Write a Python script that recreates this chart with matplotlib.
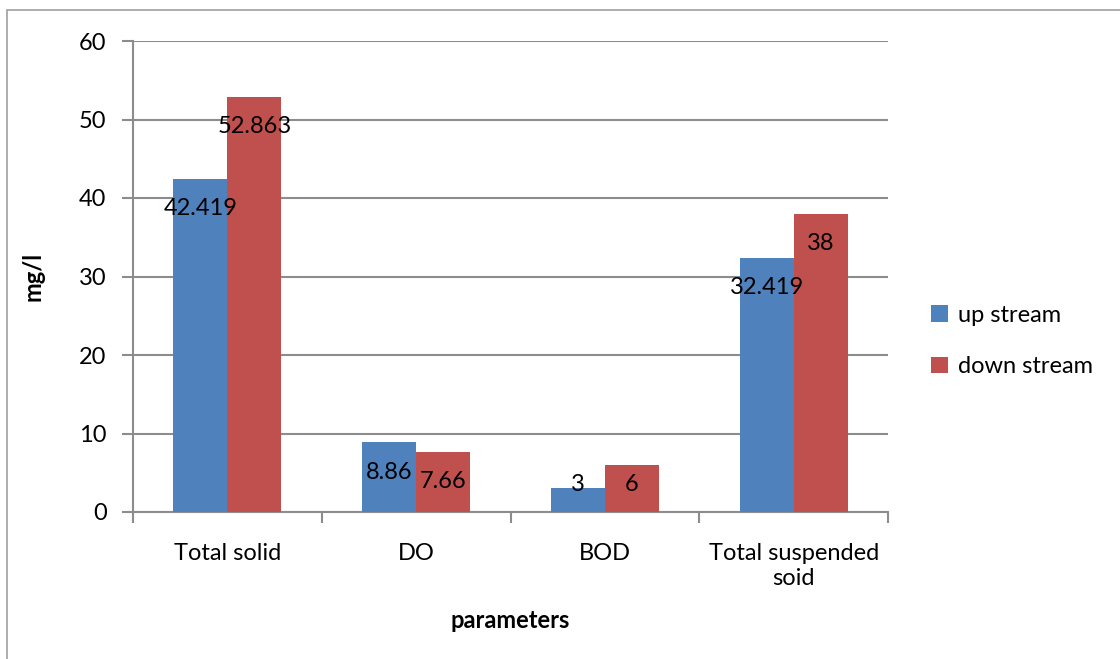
import numpy as np
import matplotlib
matplotlib.use("Agg")
import matplotlib.pyplot as plt
from matplotlib.patches import Rectangle

plt.rcParams['font.family'] = ['Lato', 'DejaVu Sans']

categories = ["Total solid", "DO", "BOD", "Total suspended\nsoid"]
up_stream = [42.419, 8.86, 3, 32.419]
down_stream = [52.863, 7.66, 6, 38]
series_names = ["up stream", "down stream"]

blue = "#4F81BD"
red = "#C0504D"
grid_grey = "#8C8C8C"
fs = 17

fig = plt.figure(figsize=(11.2, 6.59), dpi=100)
ax = fig.add_axes([133 / 1120, 1 - 512 / 659, 755 / 1120, 471 / 659])

# outer chart frame (only left/top edges fall inside the image)
fig.patches.append(Rectangle((7 / 1120, -0.1), 1.2, (1 - 10 / 659) + 0.1,
                             transform=fig.transFigure, fill=False,
                             edgecolor="#A0A0A0", linewidth=1.2))

x = np.arange(len(categories))
w = 0.286
b1 = ax.bar(x - w / 2, up_stream, w, color=blue, label=series_names[0], zorder=3)
b2 = ax.bar(x + w / 2, down_stream, w, color=red, label=series_names[1], zorder=3)

# value labels just inside the bar tops, kept above the axis for short bars
for bars, vals in ((b1, up_stream), (b2, down_stream)):
    for rect, v in zip(bars, vals):
        ypos = max(v - 3.8, 3.45)
        ax.text(rect.get_x() + rect.get_width() / 2, ypos, f"{v:g}",
                ha="center", va="center", fontsize=fs, color="black", zorder=4)

ax.set_xlim(-0.5, len(categories) - 0.5)
ax.set_ylim(0, 60)
ax.set_yticks(range(0, 61, 10))
ax.yaxis.grid(True, color=grid_grey, linewidth=1.5, zorder=0)
ax.set_axisbelow(True)

ax.set_xticks(x)
ax.set_xticklabels(categories, fontsize=fs, linespacing=1.25)
ax.tick_params(axis="x", which="major", length=0, pad=22)
ax.set_xticks(np.arange(-0.5, len(categories), 1), minor=True)
ax.tick_params(axis="x", which="minor", length=8, width=1.5, color=grid_grey)
ax.tick_params(axis="y", length=8, width=1.5, color=grid_grey, labelsize=fs, pad=11)

for side in ("top", "right"):
    ax.spines[side].set_visible(False)
for side in ("left", "bottom"):
    ax.spines[side].set_color(grid_grey)
    ax.spines[side].set_linewidth(1.5)

fig.text(33 / 1120, 1 - 276 / 659, "mg/l", fontsize=fs, fontweight="bold",
         rotation=90, ha="center", va="center")
fig.text(510 / 1120, 1 - 620 / 659, "parameters", fontsize=fs, fontweight="bold",
         ha="center", va="center")

ax.legend(loc="center left", bbox_to_anchor=(1.029, 0.363), frameon=False,
          fontsize=fs, handlelength=0.7, handleheight=0.7,
          handletextpad=0.45, labelspacing=1.3)

fig.savefig("out.png", dpi=100)
